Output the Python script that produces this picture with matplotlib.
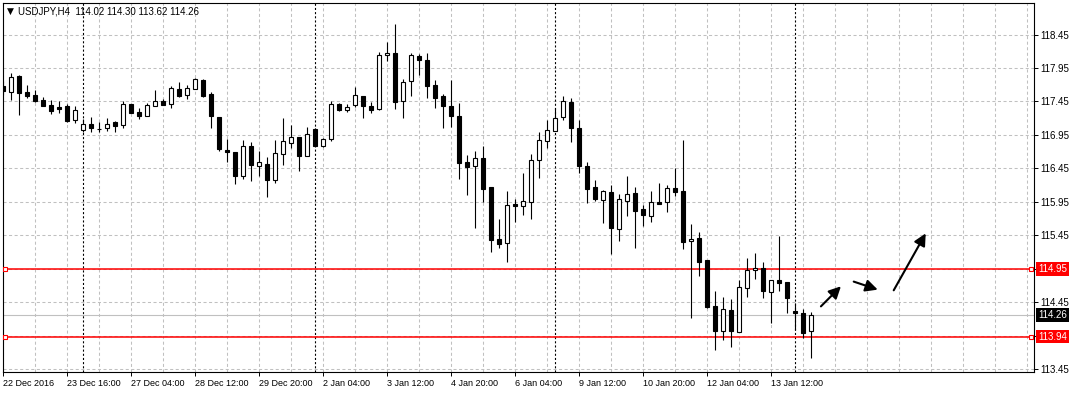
import numpy as np
import matplotlib
matplotlib.use("Agg")
import matplotlib.pyplot as plt
import matplotlib.transforms as mtransforms

plt.rcParams["font.family"] = ["Liberation Sans", "DejaVu Sans"]
plt.rcParams["lines.scale_dashes"] = False

# H4 candles (index 0 = 22 Dec 2016)
opens = [117.675, 117.59, 117.835, 117.585, 117.55, 117.475, 117.39, 117.36, 117.375, 117.175,
         117.03, 117.115, 117.045, 117.05, 117.15, 117.10, 117.405, 117.30, 117.23, 117.38,
         117.45, 117.415, 117.64, 117.55, 117.64, 117.775, 117.555, 117.225, 116.725, 116.70,
         116.33, 116.785, 116.485, 116.515, 116.28, 116.669, 116.833, 116.918, 116.629, 117.037,
         116.788, 116.883, 117.405, 117.33, 117.39, 117.525, 117.375, 117.331, 118.151, 118.181,
         117.45, 117.749, 118.136, 118.062, 117.69, 117.525, 117.375, 117.24, 116.55, 116.485,
         116.61, 116.175, 115.39, 115.34, 115.915, 115.895, 115.945, 116.575, 116.86, 117.005,
         117.215, 117.445, 117.055, 116.485, 116.17, 115.985, 116.095, 115.55, 115.97, 116.08,
         115.84, 115.745, 115.945, 115.955, 116.155, 116.115, 115.36, 115.41, 115.08, 114.39,
         114.02, 114.34, 114.01, 114.67, 114.94, 114.97, 114.61, 114.79, 114.76, 114.325,
         114.295, 114.02]
highs = [117.75, 117.88, 117.84, 117.69, 117.615, 117.51, 117.475, 117.45, 117.415, 117.385,
         117.195, 117.22, 117.145, 117.205, 117.165, 117.45, 117.415, 117.355, 117.42, 117.615,
         117.48, 117.675, 117.735, 117.69, 117.805, 117.79, 117.585, 117.225, 116.89, 116.70,
         116.88, 116.845, 116.715, 116.625, 116.88, 117.206, 117.097, 116.923, 117.067, 117.057,
         116.898, 117.455, 117.43, 117.405, 117.659, 117.535, 117.435, 118.196, 118.345, 118.604,
         117.783, 118.181, 118.156, 118.181, 117.765, 117.56, 117.765, 117.42, 116.65, 116.71,
         116.785, 116.175, 115.695, 116.11, 116.0, 116.385, 116.67, 117.0, 117.175, 117.35,
         117.525, 117.505, 117.18, 116.545, 116.275, 116.125, 116.205, 116.065, 116.34, 116.18,
         115.905, 116.11, 116.23, 116.205, 116.46, 116.88, 115.615, 115.50, 115.08, 114.625,
         114.525, 114.505, 114.78, 115.11, 115.18, 115.05, 114.79, 115.44, 114.76, 114.445,
         114.355, 114.30]
lows = [117.54, 117.465, 117.255, 117.50, 117.435, 117.38, 117.27, 117.275, 117.14, 117.135,
        116.99, 116.995, 116.995, 117.015, 116.99, 117.05, 117.28, 117.185, 117.23, 117.38,
        117.395, 117.35, 117.515, 117.485, 117.64, 117.515, 117.05, 116.71, 116.54, 116.215,
        116.285, 116.255, 116.335, 116.03, 116.236, 116.505, 116.748, 116.415, 116.629, 116.788,
        116.773, 116.853, 117.311, 117.296, 117.37, 117.206, 117.281, 117.32, 118.06, 117.345,
        117.206, 117.535, 117.848, 117.505, 117.35, 117.05, 117.075, 116.285, 116.06, 115.565,
        115.95, 115.20, 115.265, 115.055, 115.65, 115.755, 115.70, 116.30, 116.76, 117.005,
        117.17, 116.84, 116.38, 115.935, 115.965, 115.64, 115.175, 115.37, 115.745, 115.265,
        115.595, 115.655, 115.925, 115.805, 116.04, 115.24, 114.215, 114.85, 114.37, 113.735,
        113.885, 113.78, 114.01, 114.53, 114.80, 114.515, 114.135, 114.62, 114.29, 114.03,
        113.92, 113.62]
closes = [117.60, 117.815, 117.575, 117.525, 117.45, 117.38, 117.315, 117.335, 117.165, 117.325,
          117.115, 117.05, 117.035, 117.115, 117.08, 117.415, 117.285, 117.24, 117.40, 117.45,
          117.395, 117.655, 117.53, 117.655, 117.79, 117.53, 117.23, 116.735, 116.69, 116.33,
          116.785, 116.495, 116.545, 116.27, 116.685, 116.853, 116.918, 116.634, 116.958, 116.788,
          116.883, 117.415, 117.326, 117.36, 117.54, 117.385, 117.326, 118.151, 118.181, 117.435,
          117.734, 118.151, 118.072, 117.674, 117.50, 117.38, 117.23, 116.525, 116.465, 116.605,
          116.15, 115.385, 115.325, 115.905, 115.895, 115.96, 116.575, 116.875, 117.025, 117.20,
          117.46, 117.05, 116.49, 116.15, 115.995, 116.11, 115.565, 115.99, 116.065, 115.82,
          115.76, 115.945, 115.925, 116.155, 116.105, 115.355, 115.39, 115.055, 114.38, 114.02,
          114.355, 114.02, 114.685, 114.94, 114.97, 114.62, 114.79, 114.74, 114.515, 114.29,
          113.995, 114.26]

date_labels = ["22 Dec 2016", "23 Dec 16:00", "27 Dec 04:00", "28 Dec 12:00", "29 Dec 20:00",
               "2 Jan 04:00", "3 Jan 12:00", "4 Jan 20:00", "6 Jan 04:00", "9 Jan 12:00",
               "10 Jan 20:00", "12 Jan 04:00", "13 Jan 12:00"]
week_starts = [10, 39, 69, 99]
levels = [114.95, 113.94]
last_price = 114.26
price_ticks = [113.45, 113.95, 114.45, 114.95, 115.45, 115.95, 116.45, 116.95, 117.45, 117.95, 118.45]
# hand-drawn arrows: (start, end) in bar index / price
arrows = [((102.2, 114.39), (104.7, 114.69)),
          ((106.3, 114.76), (109.3, 114.64)),
          ((111.3, 114.63), (115.3, 115.48))]

W, H = 1074, 393
fig = plt.figure(figsize=(W / 100, H / 100), dpi=100)
ax = fig.add_axes([2.5 / W, 21 / H, 1031.5 / W, 369.5 / H])

x = np.arange(len(opens))
o = np.array(opens)
c = np.array(closes)
bull = c >= o

# grid
for gx in np.arange(0, 129, 4):
    ax.axvline(gx, color="#c0c0c0", lw=0.75, ls=(0, (2.2, 1.8)), zorder=0)
for gy in price_ticks:
    ax.axhline(gy, color="#c0c0c0", lw=0.75, ls=(0, (2.2, 1.8)), zorder=0)

# week separators
for s in week_starts:
    ax.axvline(s, color="black", lw=0.8, ls=(0, (1.5, 1.5)), zorder=1)

# bid line and levels
ax.axhline(last_price, color="#c0c0c0", lw=0.8, zorder=1)
for lv in levels:
    ax.axhline(lv, color="red", lw=1.1, zorder=2)
    ax.plot([0.25, 128.5], [lv, lv], ls="none", marker="s", ms=3.2,
            mfc="white", mec="red", mew=0.8, zorder=3)

# candles
ax.vlines(x, lows, highs, color="black", lw=0.8, zorder=4)
ax.bar(x, np.abs(c - o), bottom=np.minimum(o, c), width=0.5,
       color=np.where(bull, "white", "black"), edgecolor="black", linewidth=0.8, zorder=5)

for start, end in arrows:
    ax.annotate("", xy=end, xytext=start,
                arrowprops=dict(arrowstyle="-|>,head_length=0.6,head_width=0.3",
                                color="black", lw=1.5, mutation_scale=12,
                                shrinkA=0, shrinkB=0), zorder=6)

ax.set_xlim(-0.125, 128.84)
ax.set_ylim(113.41, 118.928)

ax.set_xticks(np.arange(0, 8 * len(date_labels), 8))
ax.set_xticklabels(date_labels, ha="left", fontsize=6.5)
ax.set_yticks(price_ticks)
# labels hidden where the level boxes sit on the scale
hidden = [113.95, 114.95]
ax.set_yticklabels(["" if p in hidden else f"{p:.2f}" for p in price_ticks], fontsize=7)
ax.yaxis.tick_right()
ax.tick_params(axis="both", direction="out", length=3, width=0.7, pad=1.5, colors="black")
ax.tick_params(axis="x", pad=2)
for sp in ax.spines.values():
    sp.set_color("black")
    sp.set_linewidth(0.8)

# price boxes on the right scale
trans = mtransforms.blended_transform_factory(ax.transAxes, ax.transData)
for lv, col in [(levels[0], "red"), (last_price, "black"), (levels[1], "red")]:
    ax.text(1.0 + 4.0 / 1031.5, lv, f"{lv:.2f}", transform=trans, ha="left", va="center",
            fontsize=7, color="white", zorder=10, clip_on=False,
            bbox=dict(boxstyle="square,pad=0.2", fc=col, ec="none"))

# header
fig.text(7 / W, 1 - 11 / H, "\u25bc", fontsize=6.5, family="DejaVu Sans", va="center", ha="left")
fig.text(18 / W, 1 - 11 / H, "USDJPY,H4  114.02 114.30 113.62 114.26", fontsize=7,
         va="center", ha="left")

fig.savefig("out.png", dpi=100)
